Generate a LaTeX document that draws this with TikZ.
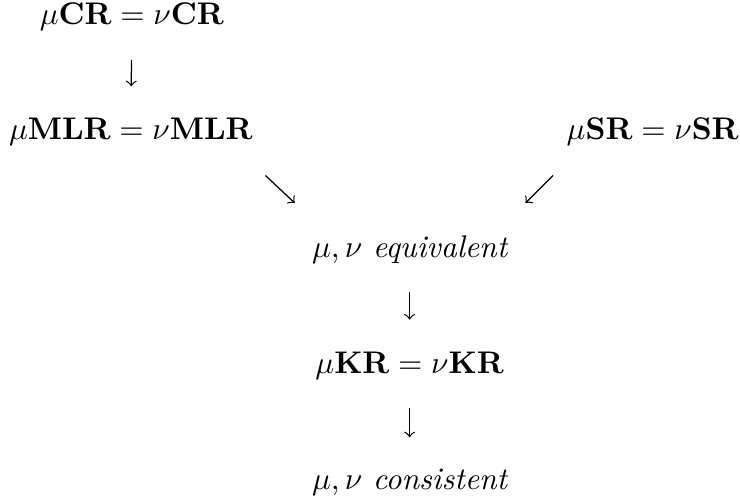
\documentclass[tikz,border=0pt]{standalone}
\usepackage{amssymb}
\usepackage{amsmath}
\usetikzlibrary{calc}

\begin{document}
\begin{tikzpicture}[
	txt/.style={anchor=base,inner sep=0pt},
	arr/.style={->,shorten <=9pt,shorten >=10pt}]
	\useasboundingbox (0,0) rectangle (8.31,-5.58);
	% rows of the diagram
	\node[txt] (cr) at (1.48,-0.28) {\(\mu\mathbf{CR}=\nu\mathbf{CR}\)};
	\node[txt] (mlr) at (1.47,-1.57) {\(\mu\mathbf{MLR}=\nu\mathbf{MLR}\)};
	\node[txt] (sr) at (7.33,-1.57) {\(\mu\mathbf{SR}=\nu\mathbf{SR}\)};
	\node[txt] (eq) at (4.60,-2.89) {\(\mu,\nu\ \textit{equivalent}\)};
	\node[txt] (kr) at (4.60,-4.19) {\(\mu\mathbf{KR}=\nu\mathbf{KR}\)};
	\node[txt] (cons) at (4.60,-5.50) {\(\mu,\nu\ \textit{consistent}\)};
	% implications
	\draw[arr] (cr.south) -- (mlr.north);
	\draw[arr] (eq.south) -- (kr.north);
	\draw[arr] (kr.south) -- (cons.north);
	\coordinate (mlr-out) at (2.98,-1.97);
	\coordinate (mlr-in) at (3.31,-2.28);
	\coordinate (sr-out) at (6.21,-1.97);
	\coordinate (sr-in) at (5.90,-2.28);
	\draw[->] (mlr-out) -- (mlr-in);
	\draw[->] (sr-out) -- (sr-in);
\end{tikzpicture}
\end{document}
